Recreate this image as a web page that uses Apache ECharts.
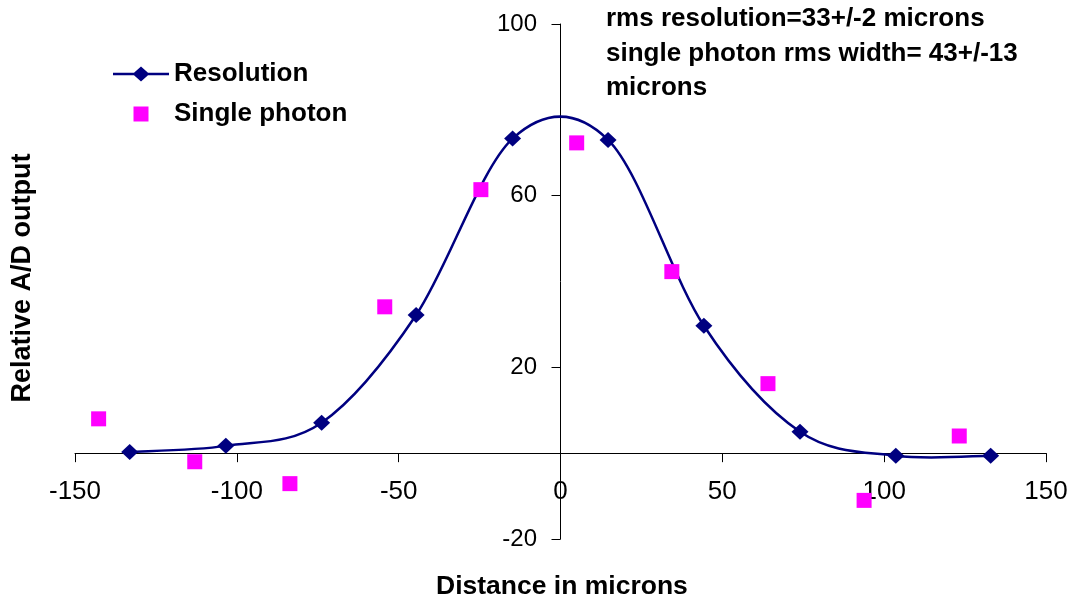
<!DOCTYPE html>
<html><head><meta charset="utf-8">
<script src="https://cdn.jsdelivr.net/npm/echarts@6/dist/echarts.min.js"></script>
<style>html,body{margin:0;padding:0;background:#fff}#c{width:1074px;height:601px}</style>
</head><body><div id="c"></div>
<script>
const resX = [-133.1, -103.4, -73.8, -44.6, -14.8, 14.7, 44.3, 74.0, 103.6, 132.9];
const resY = [0.3, 1.7, 7.1, 32.2, 73.3, 73.0, 29.7, 5.0, -0.6, -0.6];
const phX = [-142.7, -113.0, -83.6, -54.3, -24.6, 5.0, 34.4, 64.1, 93.8, 123.2];
const phY = [8.0, -2.0, -7.1, 34.1, 61.4, 72.3, 42.3, 16.2, -11.0, 4.0];
const xTicks = [-150, -100, -50, 0, 50, 100, 150];
const yTicks = [-20, 20, 60, 100];
const seriesNames = ['Resolution', 'Single photon'];
const noteLines = ['rms resolution=33+/-2 microns', 'single photon rms width= 43+/-13', 'microns'];
const xTitle = 'Distance in microns';
const yTitle = 'Relative A/D output';

const F = 'Liberation Sans, Arial, sans-serif';
const NAVY = '#000080', MAG = '#ff00ff';
const GRID = { left: 75, right: 28, top: 24, bottom: 62 };
const chart = echarts.init(document.getElementById('c'));

const resData = resX.map((x, i) => [x, resY[i]]);
// Excel-style smoothed line: Catmull-Rom segments converted to cubic Bezier
function renderSeg(params, api) {
  const i = params.dataIndex, n = resData.length;
  if (i >= n - 1) return null;
  const P = k => api.coord(resData[Math.max(0, Math.min(n - 1, k))]);
  const p0 = P(i - 1), p1 = P(i), p2 = P(i + 1), p3 = P(i + 2);
  return {
    type: 'bezierCurve',
    shape: {
      x1: p1[0], y1: p1[1], x2: p2[0], y2: p2[1],
      cpx1: p1[0] + (p2[0] - p0[0]) / 6, cpy1: p1[1] + (p2[1] - p0[1]) / 6,
      cpx2: p2[0] - (p3[0] - p1[0]) / 6, cpy2: p2[1] - (p3[1] - p1[1]) / 6
    },
    style: { stroke: NAVY, lineWidth: 2.5, fill: null }
  };
}

chart.setOption({
  animation: false,
  backgroundColor: '#fff',
  grid: GRID,
  legend: {
    orient: 'vertical', left: 108, top: 56, itemGap: 14, itemWidth: 56, itemHeight: 15,
    textStyle: { fontFamily: F, fontSize: 26, fontWeight: 'bold', color: '#000' },
    data: [
      { name: seriesNames[0], icon: 'path://M0,6.3L21,6.3L28,0L35,6.3L56,6.3L56,8.7L35,8.7L28,15L21,8.7L0,8.7Z', itemStyle: { color: NAVY, opacity: 1 } },
      { name: seriesNames[1], icon: 'path://M0,0L14,0L14,14L0,14Z', itemStyle: { color: MAG, opacity: 1 } }
    ]
  },
  xAxis: {
    type: 'value', min: xTicks[0], max: xTicks[xTicks.length - 1], interval: 50,
    axisLine: { onZero: true, lineStyle: { color: '#000', width: 1 } },
    axisTick: { show: true, length: 9, inside: false, lineStyle: { color: '#000' } },
    axisLabel: { fontFamily: F, fontSize: 26, color: '#000', margin: -60 },
    splitLine: { show: false }
  },
  yAxis: {
    type: 'value', min: yTicks[0], max: yTicks[yTicks.length - 1], interval: 40,
    axisLine: { show: true, onZero: true, lineStyle: { color: '#000', width: 1 } },
    axisTick: { show: true, length: 9, lineStyle: { color: '#000' } },
    axisLabel: { fontFamily: F, fontSize: 24, color: '#000', margin: -462 },
    splitLine: { show: false }
  },
  graphic: [
    { type: 'text', left: 606, top: 2, style: { text: noteLines.join('\n'), font: 'bold 26px ' + F, fill: '#000', lineHeight: 34.5 } },
    { type: 'text', left: 436, top: 573, style: { text: xTitle, font: 'bold 26.5px ' + F, fill: '#000' } },
    { type: 'text', x: 9, y: 278, rotation: Math.PI / 2, style: { text: yTitle, font: 'bold 27px ' + F, fill: '#000', align: 'center', verticalAlign: 'top' } }
  ],
  series: [
    {
      name: seriesNames[0], type: 'custom', renderItem: renderSeg,
      data: resData, encode: { x: 0, y: 1 }, z: 2
    },
    {
      name: seriesNames[0], type: 'scatter', data: resData,
      symbol: 'diamond', symbolSize: [17, 16], itemStyle: { color: NAVY, opacity: 1 }, z: 3
    },
    {
      name: seriesNames[1], type: 'scatter',
      data: phX.map((x, i) => [x, phY[i]]),
      symbol: 'rect', symbolSize: 15, itemStyle: { color: MAG, opacity: 1 }, z: 3
    }
  ]
});
</script></body></html>
